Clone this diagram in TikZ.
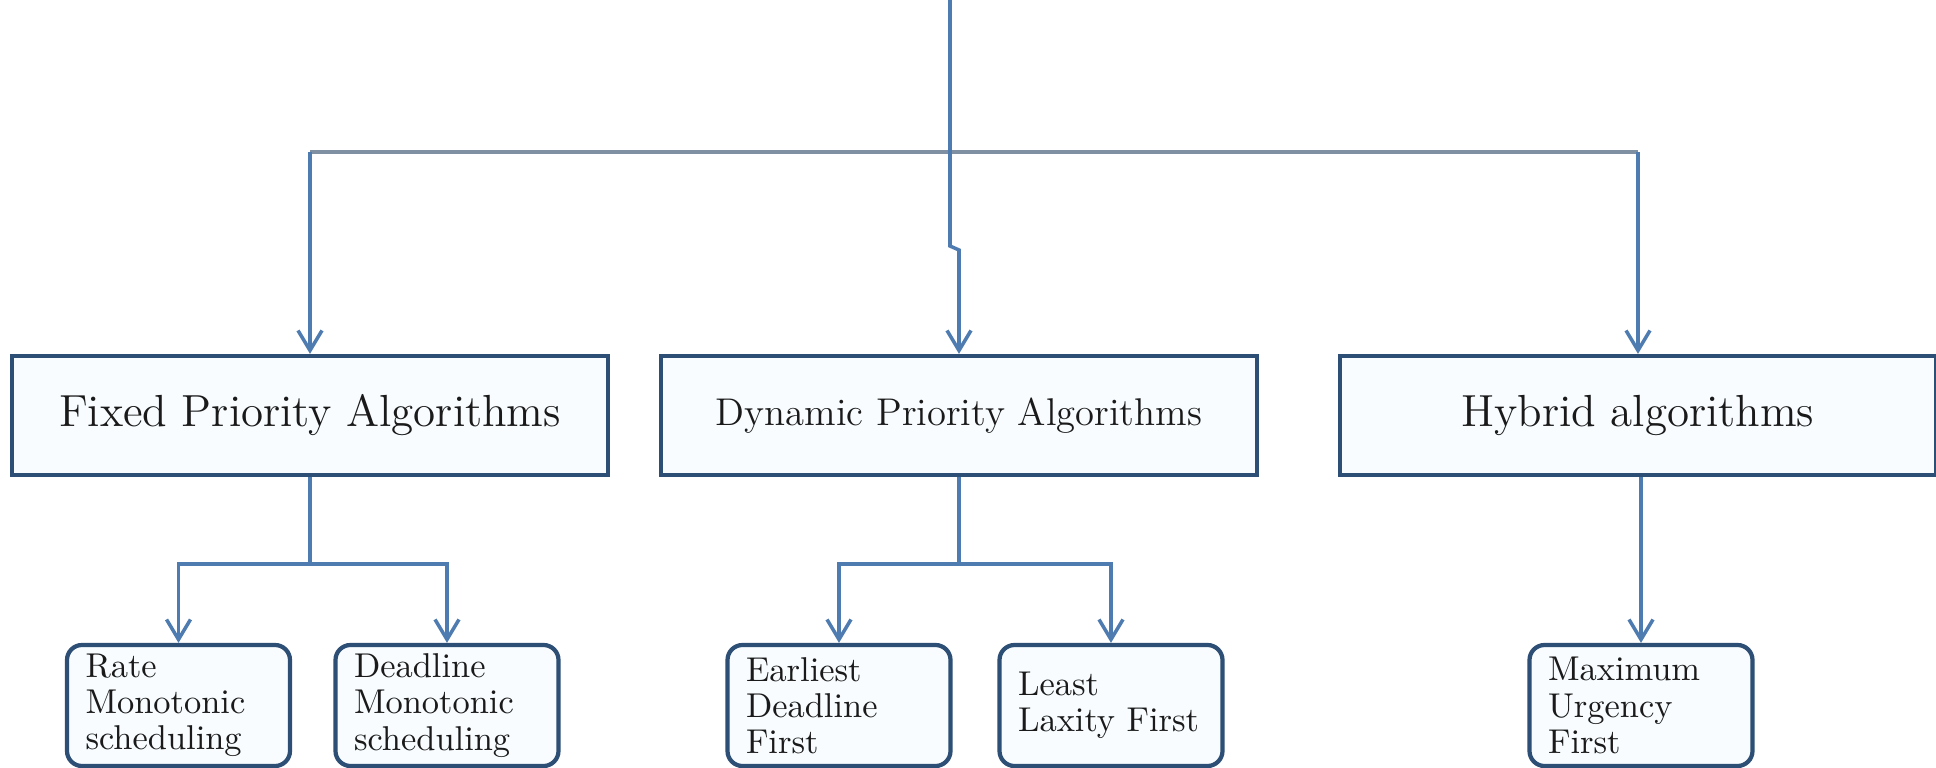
\documentclass[tikz,border=0pt]{standalone}
\usepackage{tikz}
\usetikzlibrary{arrows.meta}
\definecolor{boxline}{HTML}{2D4E75}
\definecolor{linkline}{HTML}{4F7CB0}
\definecolor{barline}{HTML}{7F90A3}
\definecolor{boxfill}{HTML}{F8FCFF}
\definecolor{txt}{HTML}{1A1A1A}
\tikzset{
  algbox/.style={draw=boxline, line width=1.2pt, fill=boxfill, text=txt,
    minimum width=5.96cm, minimum height=1.19cm, inner sep=0pt},
  leafbox/.style={draw=boxline, line width=1.2pt, fill=boxfill, text=txt,
    rounded corners=0.15cm, minimum width=2.23cm, minimum height=1.21cm,
    text width=1.86cm, inner xsep=0.185cm, inner ysep=0pt, align=left,
    font=\fontsize{9.8}{10.3}\selectfont},
  link/.style={draw=linkline, line width=1pt},
  bar/.style={draw=barline, line width=1.4pt},
  arr/.style={link, -{Straight Barb[length=0.2cm,width=0.24cm]}}
}
\begin{document}
\begin{tikzpicture}
        \useasboundingbox (0,0) rectangle (19.36,-7.68);
        % second level
        \node[algbox, font=\fontsize{12.8}{15}\selectfont] (fixed) at (3.10,-4.155) {Fixed Priority Algorithms};
        \node[algbox, font=\fontsize{11}{13}\selectfont] (dynamic) at (9.59,-4.155) {Dynamic Priority Algorithms};
        \node[algbox, font=\fontsize{12.8}{15}\selectfont] (hybrid) at (16.38,-4.155) {Hybrid algorithms};
        % leaves
        \node[leafbox] (rms) at (1.785,-7.055) {Rate\\Monotonic\\scheduling};
        \node[leafbox] (dms) at (4.47,-7.055) {Deadline\\Monotonic\\scheduling};
        \node[leafbox] (edf) at (8.39,-7.055) {Earliest\\Deadline\\First};
        \node[leafbox] (llf) at (11.11,-7.055) {Least\\Laxity First};
        \node[leafbox] (muf) at (16.41,-7.055) {Maximum\\Urgency\\First};
        % top
        \coordinate (top) at (9.50,0);
        \coordinate (split) at (9.50,-1.52);
        \draw[bar] (fixed.north |- split) -- (hybrid.north |- split);
        \draw[arr] (fixed.north |- split) -- (fixed.north);
        \draw[arr] (hybrid.north |- split) -- (hybrid.north);
        \draw[arr] (top) -- (9.50,-2.46) -- (9.59,-2.50) -- (dynamic.north);
        % fixed
        \draw[link] (fixed.south) -- ++(0,-0.87) coordinate (f1);
        \draw[arr] (f1) -| (rms.north);
        \draw[arr] (f1) -| (dms.north);
        % dynamic
        \draw[link] (dynamic.south) -- ++(0,-0.87) coordinate (d1);
        \draw[arr] (d1) -| (edf.north);
        \draw[arr] (d1) -| (llf.north);
        % hybrid
        \draw[arr] (muf.north |- hybrid.south) -- (muf.north);
\end{tikzpicture}
\end{document}
